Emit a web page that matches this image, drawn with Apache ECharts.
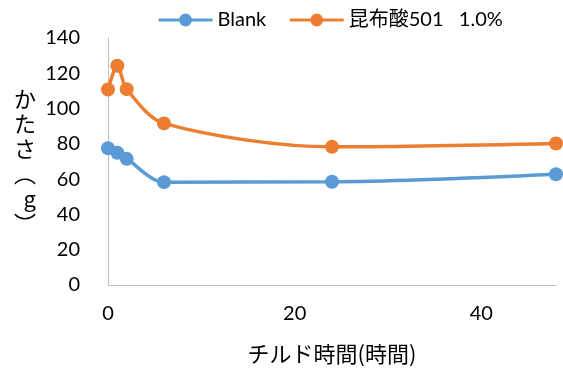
<!DOCTYPE html>
<html>
<head>
<meta charset="utf-8">
<script src="https://cdn.jsdelivr.net/npm/echarts@6/dist/echarts.min.js"></script>
<style>
  html, body { margin: 0; padding: 0; background: #ffffff; }
  #chart { width: 563px; height: 368px; }
</style>
</head>
<body>
<div id="chart"></div>
<script>
// チルド時間 (h)
var hours = [0, 1, 2, 6, 24, 48]
var blank = [77.5, 75, 71.5, 58.3, 58.5, 62.8]
var konbu = [110.8, 124.3, 111, 91.6, 78.3, 80.2]
var seriesNames = ['Blank', '昆布酸501   1.0%']

var font = 'Lato, "Noto Sans CJK JP", sans-serif'
var cjkFont = '"Noto Sans CJK JP", sans-serif'

function pairs (xs, ys) {
  var out = []
  for (let i = 0; i < xs.length; i++) {
    out.push([xs[i], ys[i]])
  }
  return out
}

var myChart = echarts.init(document.getElementById('chart'))
var option = {
  animation: false,
  textStyle: { fontFamily: font },
  legend: {
    left: 152,
    top: 5,
    itemWidth: 54,
    itemHeight: 16,
    itemGap: 22,
    data: seriesNames,
    lineStyle: { width: 3 },
    textStyle: { fontSize: 20, color: '#000000', fontFamily: font }
  },
  grid: {
    left: 108,
    right: 7,
    top: 38,
    bottom: 83,
    outerBoundsMode: 'none'
  },
  xAxis: {
    type: 'value',
    min: 0,
    max: 48,
    interval: 20,
    name: 'チルド時間(時間)',
    nameLocation: 'middle',
    nameGap: 58,
    nameTextStyle: { fontSize: 22, color: '#000000', fontFamily: cjkFont },
    axisLine: { lineStyle: { color: '#BFBFBF', width: 1 } },
    axisTick: { show: false },
    splitLine: { show: false },
    axisLabel: {
      fontSize: 20,
      color: '#000000',
      margin: 19,
      showMaxLabel: false
    }
  },
  yAxis: {
    type: 'value',
    min: 0,
    max: 140,
    interval: 20,
    name: 'か\nた\nさ\n︵\ng\n︶',
    nameLocation: 'middle',
    nameGap: 72,
    nameRotate: 0,
    nameTextStyle: {
      fontSize: 22,
      color: '#000000',
      lineHeight: 25,
      fontFamily: cjkFont,
      padding: [12, 0, 0, 0]
    },
    axisLine: { show: true, lineStyle: { color: '#BFBFBF', width: 1 } },
    axisTick: { show: false },
    splitLine: { show: false },
    axisLabel: { fontSize: 20, color: '#000000', margin: 28 }
  },
  series: [
    {
      name: seriesNames[0],
      type: 'line',
      smooth: 0.3,
      data: pairs(hours, blank),
      symbol: 'circle',
      symbolSize: 14,
      lineStyle: { width: 3.5, color: '#5B9BD5' },
      itemStyle: { color: '#5B9BD5' }
    },
    {
      name: seriesNames[1],
      type: 'line',
      smooth: 0.3,
      data: pairs(hours, konbu),
      symbol: 'circle',
      symbolSize: 14,
      lineStyle: { width: 3.5, color: '#ED7D31' },
      itemStyle: { color: '#ED7D31' }
    }
  ]
}
myChart.setOption(option)
</script>
</body>
</html>
